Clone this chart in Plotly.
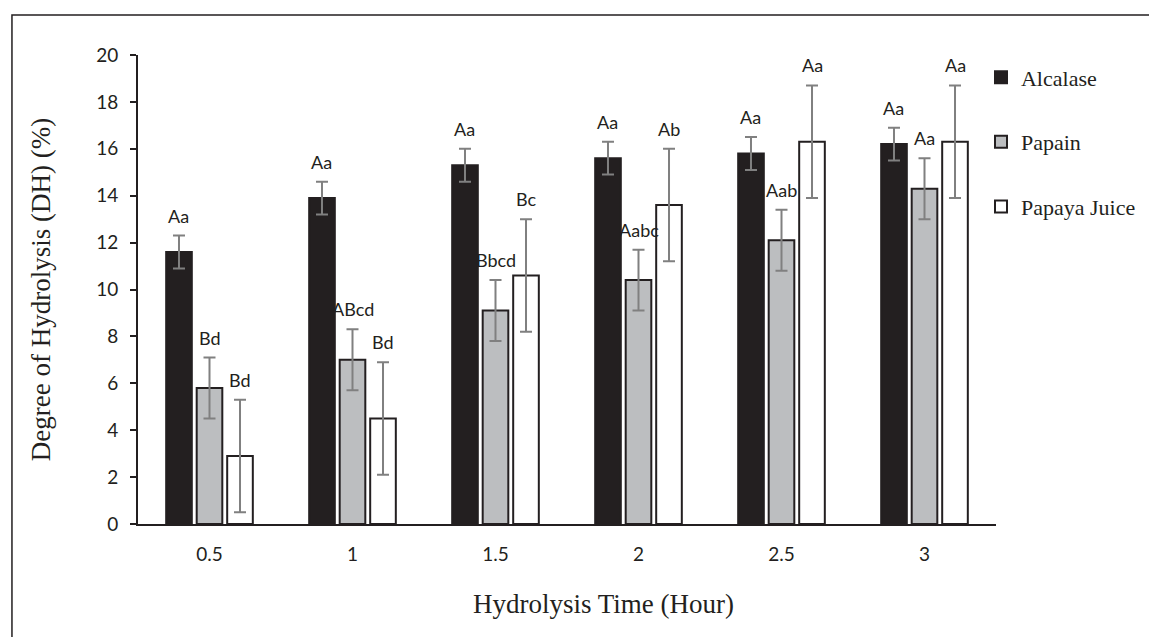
import plotly.graph_objects as go

categories = ["0.5", "1", "1.5", "2", "2.5", "3"]
alcalase = [11.6, 13.9, 15.3, 15.6, 15.8, 16.2]
alcalase_err = [0.7, 0.7, 0.7, 0.7, 0.7, 0.7]
papain = [5.8, 7.0, 9.1, 10.4, 12.1, 14.3]
papain_err = [1.3, 1.3, 1.3, 1.3, 1.3, 1.3]
papaya = [2.9, 4.5, 10.6, 13.6, 16.3, 16.3]
papaya_err = [2.4, 2.4, 2.4, 2.4, 2.4, 2.4]
alcalase_lbl = ["Aa", "Aa", "Aa", "Aa", "Aa", "Aa"]
papain_lbl = ["Bd", "ABcd", "Bbcd", "Aabc", "Aab", "Aa"]
papaya_lbl = ["Bd", "Bd", "Bc", "Ab", "Aa", "Aa"]
x_title = "Hydrolysis Time (Hour)"
y_title = "Degree of Hydrolysis (DH) (%)"

series = [
    ("Alcalase", alcalase, alcalase_err, alcalase_lbl, "#231f20", "#231f20"),
    ("Papain", papain, papain_err, papain_lbl, "#bcbec0", "#231f20"),
    ("Papaya Juice", papaya, papaya_err, papaya_lbl, "#ffffff", "#231f20"),
]

SANS = "Lato, Open Sans, sans-serif"
SERIF = "Liberation Serif, Times New Roman, serif"
INK = "#231f20"

BARGAP = 0.36
fig = go.Figure()
for i, (name, vals, errs, lbls, fill, line) in enumerate(series):
    fig.add_trace(go.Bar(
        x=categories, y=vals, name=name, legendgroup=name,
        marker=dict(color=fill, line=dict(color=line, width=2)),
        error_y=dict(type="data", array=errs, visible=True,
                     color="#808080", thickness=2, width=6),
    ))
    offset = (i - 1) * (1 - BARGAP) / 3
    for j, (v, e, t) in enumerate(zip(vals, errs, lbls)):
        fig.add_annotation(x=j + offset, y=v + e, xref="x", yref="y",
                           text=t, showarrow=False, yanchor="bottom", yshift=7,
                           font=dict(family=SANS, size=18, color=INK))

fig.update_layout(
    width=1157, height=637,
    margin=dict(l=130, r=169, t=47, b=121, pad=0),
    paper_bgcolor="white", plot_bgcolor="white",
    barmode="group", bargap=BARGAP, bargroupgap=0.16,
    showlegend=True,
    legend=dict(x=0.9825, y=0.997, xanchor="left", yanchor="top",
                font=dict(family=SERIF, size=22, color=INK),
                tracegroupgap=33, traceorder="grouped"),
    xaxis=dict(type="category", showline=True, linecolor=INK, linewidth=2,
               ticks="", ticklabelstandoff=12,
               tickfont=dict(family=SANS, size=19, color=INK),
               showgrid=False, zeroline=False),
    yaxis=dict(range=[0, 20], dtick=2, showline=True, linecolor=INK, linewidth=2,
               ticks="outside", ticklen=6, tickwidth=2, tickcolor=INK,
               ticklabelstandoff=8,
               tickfont=dict(family=SANS, size=19, color=INK),
               title=dict(text=y_title, standoff=38,
                          font=dict(family=SERIF, size=27, color=INK)),
               showgrid=False, zeroline=False),
)

fig.add_annotation(text=x_title, xref="paper", yref="paper", x=0.542, y=-0.1706,
                   xanchor="center", yanchor="middle", showarrow=False,
                   font=dict(family=SERIF, size=27, color=INK))

fig.add_shape(type="rect", xref="paper", yref="paper",
              x0=-0.1469, x1=1.19, y0=-0.25, y1=1.0853,
              line=dict(color=INK, width=1.5), fillcolor="rgba(0,0,0,0)", layer="below")

fig.write_html("out.html")
